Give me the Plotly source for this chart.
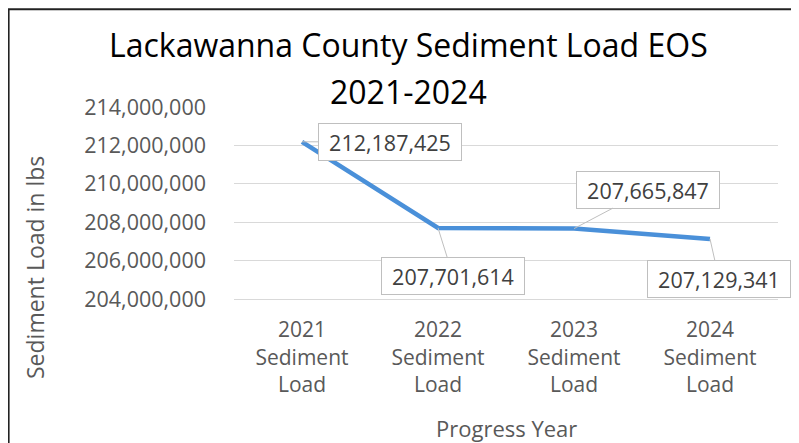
import plotly.graph_objects as go

categories = ["2021<br>Sediment<br>Load", "2022<br>Sediment<br>Load",
              "2023<br>Sediment<br>Load", "2024<br>Sediment<br>Load"]
sediment_load = [212187425, 207701614, 207665847, 207129341]
label_text = ["212,187,425", "207,701,614", "207,665,847", "207,129,341"]
y_ticks = [204000000, 206000000, 208000000, 210000000, 212000000, 214000000]
label_offsets = [(88, 0), (15, 48), (74, -39), (9, 40)]

# the page shows the figure 8px in from the window's top-left corner
OFF = 8
W, H = 799 - OFF, 443 - OFF
L, R, T, B = 234 - OFF, 799 - 778, 107 - OFF, 443 - 299
PW, PH = W - L - R, H - T - B

def px(x):  # screen x -> paper
    return (x - OFF - L) / PW

def py(y):  # screen y -> paper
    return (H - B - (y - OFF)) / PH

FONT = "Open Sans"
GRAY = "#595959"

fig = go.Figure()
fig.add_trace(go.Scatter(
    x=categories, y=sediment_load, mode="lines",
    line=dict(color="#4A90D9", width=4.5),
    hoverinfo="skip", showlegend=False,
))

annotations = []
for cat, val, txt, (ax, ay) in zip(categories, sediment_load, label_text, label_offsets):
    annotations.append(dict(
        x=cat, y=val, xref="x", yref="y", text=txt,
        showarrow=True, arrowhead=0, arrowwidth=1, arrowcolor="#BFBFBF",
        ax=ax, ay=ay, axref="pixel", ayref="pixel",
        bgcolor="white", bordercolor="#BFBFBF", borderwidth=1, borderpad=1,
        width=140, height=34,
        font=dict(family=FONT, size=21.5, color="#404040"),
    ))

annotations += [
    dict(text="Lackawanna County Sediment Load EOS", x=px(408), y=py(45),
         xref="paper", yref="paper", showarrow=False, xanchor="center", yanchor="middle",
         font=dict(family=FONT, size=32, color="black")),
    dict(text="2021-2024", x=px(408), y=py(91),
         xref="paper", yref="paper", showarrow=False, xanchor="center", yanchor="middle",
         font=dict(family=FONT, size=32, color="black")),
    dict(text="Sediment Load in lbs", x=px(35), y=py(268), textangle=-90,
         xref="paper", yref="paper", showarrow=False, xanchor="center", yanchor="middle",
         font=dict(family=FONT, size=23, color=GRAY)),
    dict(text="Progress Year", x=px(506), y=py(428),
         xref="paper", yref="paper", showarrow=False, xanchor="center", yanchor="middle",
         font=dict(family=FONT, size=22, color=GRAY)),
]

shapes = [
    dict(type="line", xref="paper", yref="paper", x0=px(8), x1=px(810), y0=py(9.3), y1=py(9.3),
         line=dict(color="#222222", width=2)),
    dict(type="line", xref="paper", yref="paper", x0=px(8.6), x1=px(8.6), y0=py(9), y1=py(460),
         line=dict(color="#222222", width=2)),
]

fig.update_layout(
    width=W, height=H,
    margin=dict(l=L, r=R, t=T, b=B, autoexpand=False),
    paper_bgcolor="white", plot_bgcolor="white",
    font=dict(family=FONT, color=GRAY),
    annotations=annotations, shapes=shapes,
    showlegend=False,
)
fig.update_xaxes(
    showgrid=False, showline=True, linecolor="#D9D9D9", linewidth=1,
    ticks="", tickfont=dict(family=FONT, size=21, color=GRAY),
    ticklabelstandoff=12, range=[-0.5, 3.5],
)
fig.update_yaxes(
    range=[204000000, 214000000], tickvals=y_ticks,
    tickformat=",d", showgrid=True, gridcolor="#D9D9D9", gridwidth=1,
    zeroline=False, showline=False, ticks="",
    tickfont=dict(family=FONT, size=21.5, color=GRAY),
    ticklabelstandoff=27,
)

fig.write_html("out.html")
